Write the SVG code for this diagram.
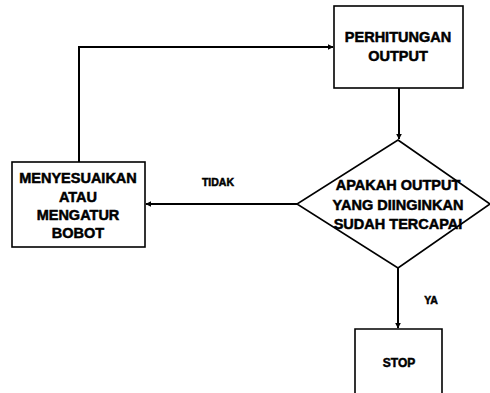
<svg xmlns="http://www.w3.org/2000/svg" width="490" height="393" viewBox="0 0 490 393">
<style>
.box{fill:#fff;stroke:#000;stroke-width:1.6}
.ln{fill:none;stroke:#000;stroke-width:2}
text{font-family:"Liberation Sans",Arial,sans-serif;font-weight:bold;fill:#000;text-anchor:middle;stroke:#000;stroke-width:0.5}
.t{font-size:14.5px}
.s{font-size:10.5px}
</style>
<defs>
<marker id="ah" viewBox="0 0 10 10" refX="9" refY="5" markerWidth="6" markerHeight="6" orient="auto" markerUnits="userSpaceOnUse">
<path d="M0,0 L10,5 L0,10 z" fill="#000"/>
</marker>
</defs>
<rect width="490" height="393" fill="#fff"/>
<g id="connectors">
<polyline class="ln" points="79,162 79,47 333,47" marker-end="url(#ah)"/>
<line class="ln" x1="399" y1="88" x2="399" y2="139" marker-end="url(#ah)"/>
<line class="ln" x1="297" y1="204" x2="146" y2="204" marker-end="url(#ah)"/>
<line class="ln" x1="398" y1="268" x2="398" y2="328" marker-end="url(#ah)"/>
<text class="s" x="218" y="186">TIDAK</text>
<text class="s" x="431" y="304">YA</text>
</g>
<g id="perhitungan">
<rect class="box" x="334" y="6" width="129" height="82"/>
<text class="t" x="398" y="42">PERHITUNGAN</text>
<text class="t" x="398" y="61">OUTPUT</text>
</g>
<g id="keputusan">
<polygon class="box" points="398,140 490,204 398,268 297,204"/>
<text class="t" x="398" y="190">APAKAH OUTPUT</text>
<text class="t" x="398" y="210">YANG DIINGINKAN</text>
<text class="t" x="398" y="229">SUDAH TERCAPAI</text>
</g>
<g id="menyesuaikan">
<rect class="box" x="12" y="162" width="133" height="85"/>
<text class="t" x="78" y="183">MENYESUAIKAN</text>
<text class="t" x="78" y="202">ATAU</text>
<text class="t" x="78" y="220">MENGATUR</text>
<text class="t" x="78" y="238">BOBOT</text>
</g>
<g id="stop">
<path class="box" d="M355,393 L355,329 L442,329 L442,393"/>
<text class="t" x="399" y="367" style="font-size:12px">STOP</text>
</g>
</svg>
